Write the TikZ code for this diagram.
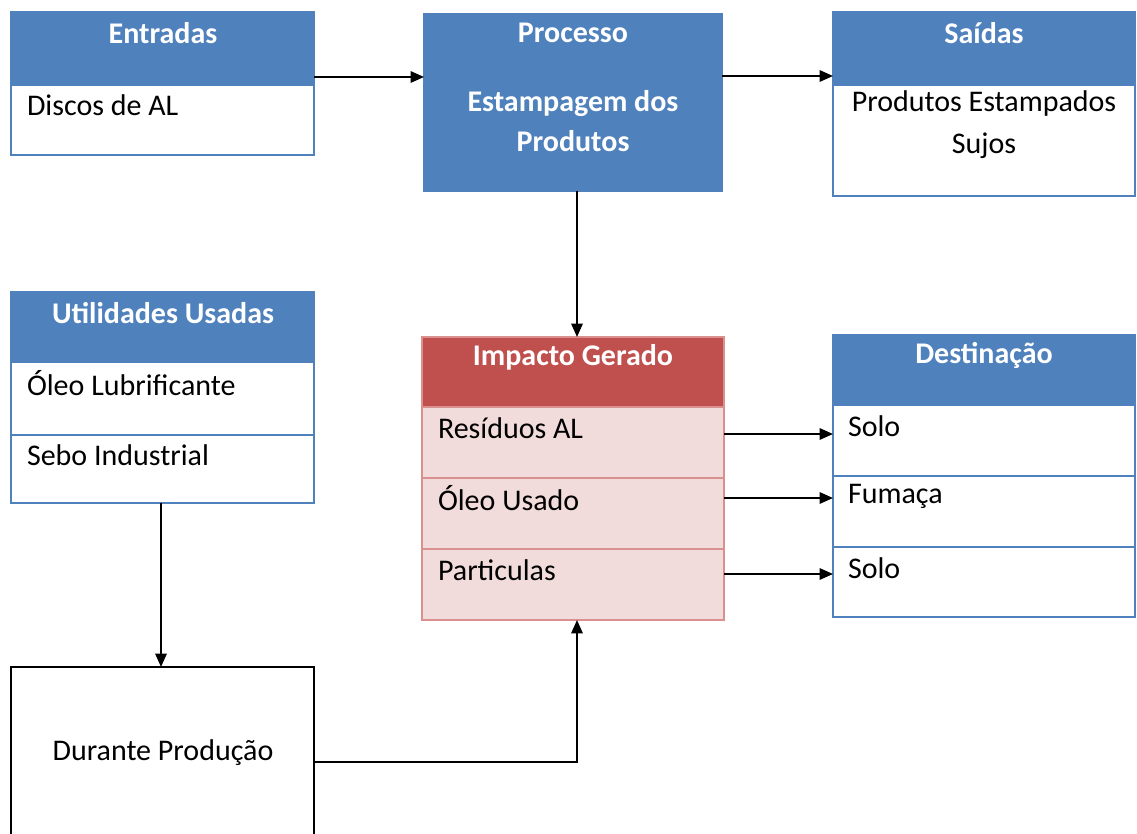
\documentclass[tikz,border=0pt]{standalone}
\usepackage{fontspec}
\setmainfont{Carlito}
\usetikzlibrary{arrows.meta}
\definecolor{hblue}{HTML}{4F81BD}
\definecolor{hred}{HTML}{C0504D}
\definecolor{lpink}{HTML}{F2DCDB}
\definecolor{pborder}{HTML}{D9908E}
\begin{document}
\begin{tikzpicture}[x=0.75pt,y=-0.75pt,
  every node/.style={inner sep=0pt,outer sep=0pt},
  bluehead/.style={draw=hblue,fill=hblue,line width=1pt,anchor=north west},
  bluebody/.style={draw=hblue,fill=white,line width=1pt,anchor=north west},
  redhead/.style={draw=pborder,fill=hred,line width=1pt,anchor=north west},
  redbody/.style={draw=pborder,fill=lpink,line width=1pt,anchor=north west},
  plainbox/.style={draw=black,fill=white,line width=1.3pt,anchor=north west},
  htext/.style={text=white,font=\fontsize{22.5}{30}\selectfont\bfseries,align=center},
  btext/.style={text=black,font=\fontsize{22.5}{30}\selectfont,anchor=west},
  ctext/.style={text=black,font=\fontsize{22.5}{31.5}\selectfont,align=center},
  conn/.style={draw=black,line width=1.4pt,-{Triangle[length=10pt,width=8.5pt]}}]
\useasboundingbox (0,0) rectangle (1137,834);
\clip (0,0) rectangle (1137,834);
\fill[white] (0,0) rectangle (1137,834);

% Entradas
\node[bluehead,minimum width=227.25pt,minimum height=54.75pt] (enth) at (11,12) {};
\node[bluebody,minimum width=227.25pt,minimum height=52.5pt] (entb) at (11,85) {};
\node[htext] (entt) at (163,33) {Entradas};
\node[btext] (entx) at (27,105) {Discos de AL};

% Processo
\node[bluehead,minimum width=223.5pt,minimum height=132.75pt] (proc) at (424,14) {};
\node[htext] (proct) at (573,33) {Processo};
\node[htext] (procx) at (573,121) {Estampagem dos\\Produtos};

% Saidas
\node[bluehead,minimum width=226.5pt,minimum height=54.75pt] (saih) at (833,12) {};
\node[bluebody,minimum width=226.5pt,minimum height=83.25pt] (saib) at (833,85) {};
\node[htext] (sait) at (984,33) {Saídas};
\node[ctext] (saix) at (984,125) {Produtos Estampados\\Sujos};

% Utilidades
\node[bluehead,minimum width=227.25pt,minimum height=52.5pt] (utih) at (11,292) {};
\node[bluebody,minimum width=227.25pt,minimum height=54.75pt] (uti1) at (11,362) {};
\node[bluebody,minimum width=227.25pt,minimum height=51pt] (uti2) at (11,435) {};
\node[htext] (utit) at (163,313) {Utilidades Usadas};
\node[btext] (uti1t) at (27,383) {Óleo Lubrificante};
\node[btext] (uti2t) at (27,455) {Sebo Industrial};

% Impacto
\node[redhead,minimum width=226.5pt,minimum height=52.5pt] (imph) at (422,337) {};
\node[redbody,minimum width=226.5pt,minimum height=53.25pt] (imp1) at (422,407) {};
\node[redbody,minimum width=226.5pt,minimum height=53.25pt] (imp2) at (422,478) {};
\node[redbody,minimum width=226.5pt,minimum height=53.25pt] (imp3) at (422,549) {};
\node[htext] (impt) at (573,357) {Impacto Gerado};
\node[btext] (imp1t) at (438,428) {Resíduos AL};
\node[btext] (imp2t) at (438,498) {Óleo Usado};
\node[btext] (imp3t) at (438,570) {Particulas};

% Destinacao
\node[bluehead,minimum width=226.5pt,minimum height=52.5pt] (dsth) at (833,335) {};
\node[bluebody,minimum width=226.5pt,minimum height=53.25pt] (dst1) at (833,405) {};
\node[bluebody,minimum width=226.5pt,minimum height=53.25pt] (dst2) at (833,476) {};
\node[bluebody,minimum width=226.5pt,minimum height=52.5pt] (dst3) at (833,547) {};
\node[htext] (dstt) at (984,355) {Destinação};
\node[btext] (dst1t) at (848,426) {Solo};
\node[btext] (dst2t) at (848,496) {Fumaça};
\node[btext] (dst3t) at (848,568) {Solo};

% Durante
\node[plainbox,minimum width=227.25pt,minimum height=135pt] (dur) at (11,667) {};
\node[ctext] (durt) at (163,753) {Durante Produção};

% connectors
\draw[conn] (enth.east |- 0,77) -- (proc.west |- 0,77);
\draw[conn] (proc.east |- 0,76) -- (saih.west |- 0,76);
\draw[conn] (proc.south -| 577,0) -- (imph.north -| 577,0);
\draw[conn] (imp1.east |- 0,434) -- (dst1.west |- 0,434);
\draw[conn] (imp2.east |- 0,498) -- (dst2.west |- 0,498);
\draw[conn] (imp3.east |- 0,574) -- (dst3.west |- 0,574);
\draw[conn] (uti2.south -| 161,0) -- (dur.north -| 161,0);
\draw[conn] (dur.east |- 0,762) -| (imp3.south -| 577,0);
\end{tikzpicture}
\end{document}
